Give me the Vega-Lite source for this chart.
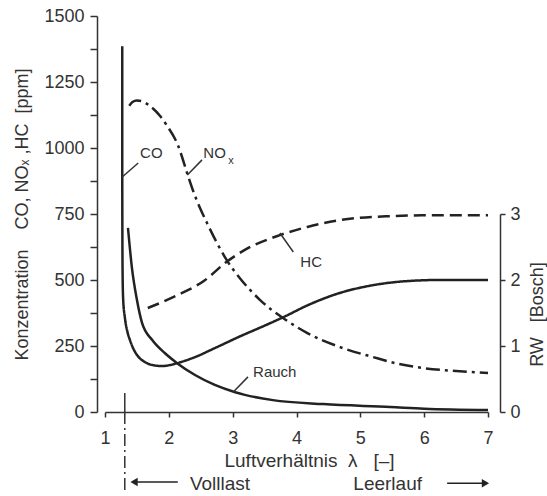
{
  "$schema": "https://vega.github.io/schema/vega-lite/v6.json",
  "width": 383,
  "height": 396,
  "autosize": {"type": "none"},
  "padding": {"left": 105, "top": 16, "right": 59, "bottom": 84},
  "background": "white",
  "config": {
    "view": {"stroke": null},
    "font": "Liberation Sans",
    "axis": {"labelFont": "Liberation Sans", "titleFont": "Liberation Sans", "labelColor": "#333", "titleColor": "#333", "domainColor": "#333", "tickColor": "#333", "grid": false, "titleFontWeight": "normal", "labelFontSize": 18, "titleFontSize": 18, "domainWidth": 1.5, "tickWidth": 1.5}
  },
  "datasets": {
    "ppm": [
      {"series": "CO", "lam": 1.27, "v": 1385},
      {"series": "CO", "lam": 1.27, "v": 1000},
      {"series": "CO", "lam": 1.272, "v": 700},
      {"series": "CO", "lam": 1.276, "v": 520},
      {"series": "CO", "lam": 1.285, "v": 425},
      {"series": "CO", "lam": 1.31, "v": 360},
      {"series": "CO", "lam": 1.35, "v": 305},
      {"series": "CO", "lam": 1.39, "v": 273},
      {"series": "CO", "lam": 1.45, "v": 237},
      {"series": "CO", "lam": 1.52, "v": 210},
      {"series": "CO", "lam": 1.62, "v": 190},
      {"series": "CO", "lam": 1.74, "v": 178},
      {"series": "CO", "lam": 1.89, "v": 174},
      {"series": "CO", "lam": 2.0, "v": 177},
      {"series": "CO", "lam": 2.13, "v": 185},
      {"series": "CO", "lam": 2.41, "v": 208},
      {"series": "CO", "lam": 2.72, "v": 242},
      {"series": "CO", "lam": 3.12, "v": 287},
      {"series": "CO", "lam": 3.5, "v": 327},
      {"series": "CO", "lam": 3.8, "v": 360},
      {"series": "CO", "lam": 4.2, "v": 407},
      {"series": "CO", "lam": 4.68, "v": 451},
      {"series": "CO", "lam": 5.1, "v": 476},
      {"series": "CO", "lam": 5.47, "v": 490},
      {"series": "CO", "lam": 5.89, "v": 498},
      {"series": "CO", "lam": 6.2, "v": 500},
      {"series": "CO", "lam": 7.0, "v": 500},
      {"series": "NOx", "lam": 1.38, "v": 1160},
      {"series": "NOx", "lam": 1.43, "v": 1174},
      {"series": "NOx", "lam": 1.5, "v": 1180},
      {"series": "NOx", "lam": 1.6, "v": 1175},
      {"series": "NOx", "lam": 1.71, "v": 1158},
      {"series": "NOx", "lam": 1.86, "v": 1122},
      {"series": "NOx", "lam": 1.97, "v": 1085},
      {"series": "NOx", "lam": 2.14, "v": 1012},
      {"series": "NOx", "lam": 2.3, "v": 895},
      {"series": "NOx", "lam": 2.38, "v": 838},
      {"series": "NOx", "lam": 2.49, "v": 772},
      {"series": "NOx", "lam": 2.6, "v": 715},
      {"series": "NOx", "lam": 2.77, "v": 633},
      {"series": "NOx", "lam": 2.9, "v": 578},
      {"series": "NOx", "lam": 3.12, "v": 505},
      {"series": "NOx", "lam": 3.43, "v": 424},
      {"series": "NOx", "lam": 3.79, "v": 356},
      {"series": "NOx", "lam": 4.17, "v": 299},
      {"series": "NOx", "lam": 4.68, "v": 246},
      {"series": "NOx", "lam": 5.2, "v": 208},
      {"series": "NOx", "lam": 5.6, "v": 182},
      {"series": "NOx", "lam": 6.0, "v": 166},
      {"series": "NOx", "lam": 6.5, "v": 155},
      {"series": "NOx", "lam": 7.0, "v": 148},
      {"series": "HC", "lam": 1.67, "v": 394},
      {"series": "HC", "lam": 2.14, "v": 443},
      {"series": "HC", "lam": 2.57, "v": 500},
      {"series": "HC", "lam": 2.88, "v": 564},
      {"series": "HC", "lam": 3.19, "v": 614},
      {"series": "HC", "lam": 3.74, "v": 670},
      {"series": "HC", "lam": 4.17, "v": 701},
      {"series": "HC", "lam": 4.68, "v": 727},
      {"series": "HC", "lam": 5.47, "v": 742},
      {"series": "HC", "lam": 6.0, "v": 745},
      {"series": "HC", "lam": 7.0, "v": 745}
    ],
    "rauch": [
      {"lam": 1.36, "rw": 2.79},
      {"lam": 1.42, "rw": 2.2},
      {"lam": 1.5, "rw": 1.7},
      {"lam": 1.58, "rw": 1.35},
      {"lam": 1.74, "rw": 1.09},
      {"lam": 1.94, "rw": 0.89},
      {"lam": 2.13, "rw": 0.74},
      {"lam": 2.41, "rw": 0.56},
      {"lam": 2.72, "rw": 0.41},
      {"lam": 3.04, "rw": 0.3},
      {"lam": 3.19, "rw": 0.26},
      {"lam": 3.63, "rw": 0.18},
      {"lam": 4.42, "rw": 0.12},
      {"lam": 5.47, "rw": 0.076},
      {"lam": 6.0, "rw": 0.05},
      {"lam": 7.0, "rw": 0.03}
    ],
    "leaders": [
      {"lam": 1.27, "v": 890, "lam2": 1.52, "v2": 943},
      {"lam": 2.29, "v": 898, "lam2": 2.52, "v2": 955},
      {"lam": 3.74, "v": 678, "lam2": 3.95, "v2": 606},
      {"lam": 3.01, "v": 76, "lam2": 3.24, "v2": 133}
    ],
    "labels": [
      {"lam": 1.55, "v": 981, "t": "CO"},
      {"lam": 2.54, "v": 981, "t": "NO"},
      {"lam": 4.06, "v": 568, "t": "HC"},
      {"lam": 3.32, "v": 152, "t": "Rauch"}
    ],
    "subs": [
      {"lam": 2.93, "v": 950, "t": "x"}
    ],
    "bottom": [
      {"lam": 2.33, "v": -272, "t": "Volllast"},
      {"lam": 4.89, "v": -272, "t": "Leerlauf"}
    ],
    "arrows": [
      {"lam": 1.455, "lam2": 2.14, "v": -265},
      {"lam": 6.36, "lam2": 6.97, "v": -270}
    ],
    "heads": [
      {"lam": 1.455, "v": -265, "dir": "L"},
      {"lam": 6.96, "v": -270, "dir": "R"}
    ],
    "marker": [
      {"lam": 1.31, "v": 72, "v2": 0, "part": "solid"},
      {"lam": 1.31, "v": 0, "v2": -295, "part": "dashdot"}
    ]
  },
  "layer": [
    {
      "data": {"name": "ppm"},
      "mark": {"type": "line", "color": "#222", "strokeWidth": 2.5, "interpolate": "monotone"},
      "encoding": {
        "x": {"field": "lam", "type": "quantitative", "scale": {"domain": [1, 7], "nice": false, "zero": false},
          "axis": {"values": [1, 1.5, 2, 2.5, 3, 3.5, 4, 4.5, 5, 5.5, 6, 6.5, 7], "labelExpr": "datum.value % 1 === 0 ? format(datum.value, 'd') : ''", "tickSize": 5, "labelPadding": 12, "labelFlush": false, "title": "Luftverhältnis\u00a0\u00a0λ\u00a0\u00a0\u00a0[–]", "titleFontSize": 19, "titleX": 204, "titleY": 48, "titleBaseline": "middle", "titleAnchor": "middle"}},
        "y": {"field": "v", "type": "quantitative", "scale": {"domain": [0, 1500], "nice": false},
          "axis": {"values": [0, 125, 250, 375, 500, 625, 750, 875, 1000, 1125, 1250, 1375, 1500], "labelExpr": "datum.value % 250 === 0 ? format(datum.value, 'd') : ''", "tickSize": 7, "offset": 8, "labelPadding": 6, "labelFlush": false, "title": "Konzentration\u00a0\u00a0\u00a0\u00a0CO,\u00a0NOₓ\u00a0,HC\u00a0\u00a0[ppm]", "titlePadding": 12}},
        "strokeDash": {"field": "series", "type": "nominal", "scale": {"domain": ["CO", "NOx", "HC"], "range": [[1, 0], [14, 5, 3, 5], [12, 6]]}, "legend": null},
        "detail": {"field": "series"}
      }
    },
    {
      "data": {"name": "rauch"},
      "mark": {"type": "line", "color": "#222", "strokeWidth": 2.5, "interpolate": "monotone"},
      "encoding": {
        "x": {"field": "lam", "type": "quantitative"},
        "y": {"field": "rw", "type": "quantitative", "scale": {"domain": [0, 6], "nice": false},
          "axis": {"orient": "right", "values": [0, 1, 2, 3], "tickSize": 5, "offset": 12, "labelPadding": 5, "labelFlush": false, "domainDash": [198, 400], "title": "RW\u00a0\u00a0\u00a0[Bosch]", "titleAngle": 270, "titleBaseline": "top", "titleY": 298, "titlePadding": 8}}
      }
    },
    {
      "data": {"name": "leaders"},
      "mark": {"type": "rule", "color": "#333", "strokeWidth": 1.5},
      "encoding": {
        "x": {"field": "lam", "type": "quantitative"},
        "x2": {"field": "lam2"},
        "y": {"field": "v", "type": "quantitative", "scale": {"domain": [0, 1500], "nice": false}, "axis": null},
        "y2": {"field": "v2"}
      }
    },
    {
      "data": {"name": "labels"},
      "mark": {"type": "text", "align": "left", "baseline": "middle", "fontSize": 15, "color": "#333", "font": "Liberation Sans"},
      "encoding": {
        "x": {"field": "lam", "type": "quantitative"},
        "y": {"field": "v", "type": "quantitative", "scale": {"domain": [0, 1500], "nice": false}, "axis": null},
        "text": {"field": "t"}
      }
    },
    {
      "data": {"name": "subs"},
      "mark": {"type": "text", "align": "left", "baseline": "middle", "fontSize": 11, "color": "#333", "font": "Liberation Sans"},
      "encoding": {
        "x": {"field": "lam", "type": "quantitative"},
        "y": {"field": "v", "type": "quantitative", "scale": {"domain": [0, 1500], "nice": false}, "axis": null},
        "text": {"field": "t"}
      }
    },
    {
      "data": {"name": "bottom"},
      "mark": {"type": "text", "align": "left", "baseline": "middle", "fontSize": 19, "color": "#333", "font": "Liberation Sans"},
      "encoding": {
        "x": {"field": "lam", "type": "quantitative"},
        "y": {"field": "v", "type": "quantitative", "scale": {"domain": [0, 1500], "nice": false}, "axis": null},
        "text": {"field": "t"}
      }
    },
    {
      "data": {"name": "arrows"},
      "mark": {"type": "rule", "color": "#222", "strokeWidth": 1.5},
      "encoding": {
        "x": {"field": "lam", "type": "quantitative"},
        "x2": {"field": "lam2"},
        "y": {"field": "v", "type": "quantitative", "scale": {"domain": [0, 1500], "nice": false}, "axis": null}
      }
    },
    {
      "data": {"name": "heads"},
      "mark": {"type": "point", "filled": true, "color": "#222", "size": 70, "opacity": 1},
      "encoding": {
        "x": {"field": "lam", "type": "quantitative"},
        "y": {"field": "v", "type": "quantitative", "scale": {"domain": [0, 1500], "nice": false}, "axis": null},
        "shape": {"field": "dir", "type": "nominal", "scale": {"domain": ["L", "R"], "range": ["triangle-left", "triangle-right"]}, "legend": null}
      }
    },
    {
      "data": {"name": "marker"},
      "mark": {"type": "rule", "color": "#333", "strokeWidth": 1.5},
      "encoding": {
        "x": {"field": "lam", "type": "quantitative"},
        "y": {"field": "v", "type": "quantitative", "scale": {"domain": [0, 1500], "nice": false}, "axis": null},
        "y2": {"field": "v2"},
        "strokeDash": {"field": "part", "type": "nominal", "scale": {"domain": ["solid", "dashdot"], "range": [[1, 0], [12, 4, 2, 4]]}, "legend": null}
      }
    }
  ],
  "resolve": {"scale": {"y": "independent", "strokeDash": "independent", "shape": "independent"}}
}
